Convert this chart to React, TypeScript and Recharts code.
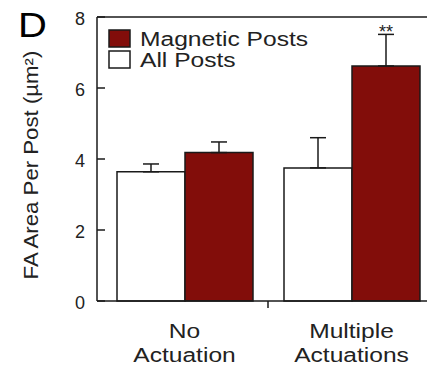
import { BarChart, Bar, XAxis, YAxis, ErrorBar, LabelList, Legend, ReferenceLine } from "recharts"

const categories = ["No Actuation", "Multiple Actuations"]
const tickLabels = [
  ["No", "Actuation"],
  ["Multiple", "Actuations"],
]
const allPosts = [3.64, 3.75]
const allPostsErr = [0.22, 0.85]
const magneticPosts = [4.18, 6.62]
const magneticErr = [0.3, 0.89]
const significance = ["", "**"]
const yTicks = [0, 2, 4, 6, 8]

const FONT = '"Liberation Sans", Arial, sans-serif'
const RED = "#820d0a"
const INK = "#1a1a1a"
const TEXT = "#222"

const data = categories.map((category, i) => ({
  category,
  all: allPosts[i],
  allErr: [0, allPostsErr[i]],
  magnetic: magneticPosts[i],
  magneticErr: [0, magneticErr[i]],
}))

function YTick({ x, y, payload }: any) {
  return (
    <g>
      <line x1={x + 12} x2={x + 20} y1={y} y2={y} stroke={INK} strokeWidth={1.5} />
      <text x={x} y={y} dy={7.5} textAnchor="end" fontSize={18} fontFamily={FONT} fill={TEXT}>
        {payload.value}
      </text>
    </g>
  )
}

function XTick({ x, y, payload, index }: any) {
  const lines = tickLabels[index] || []
  return (
    <g>
      {index === 0 && payload.offset ? (
        <line x1={x + payload.offset} x2={x + payload.offset} y1={y} y2={y + 7} stroke={INK} strokeWidth={1.5} />
      ) : null}
      {lines.map((t, k) => (
        <text
          key={t}
          transform={`translate(${x},${y + 37 + k * 23.7}) scale(1.17,1)`}
          textAnchor="middle"
          fontSize={21}
          fontFamily={FONT}
          fill={TEXT}
        >
          {t}
        </text>
      ))}
    </g>
  )
}

function YTitle({ viewBox }: any) {
  const cx = viewBox.x + 38
  const cy = viewBox.y + viewBox.height / 2 + 6
  return (
    <g>
      <text
        transform={`translate(${cx},${cy}) rotate(-90) scale(1.14,1)`}
        textAnchor="middle"
        fontSize={19.5}
        fontFamily={FONT}
        fill={TEXT}
      >
        FA Area Per Post (µm²)
      </text>
      <text transform="translate(18,37) scale(1.11,1)" fontSize={36} fontFamily={FONT} fill="#000">
        D
      </text>
    </g>
  )
}

function SigLabel({ x, y, width, height, index }: any) {
  const mark = significance[index]
  if (!mark) return null
  const errPx = (height * magneticErr[index]) / magneticPosts[index]
  return (
    <text x={x + width / 2} y={y - errPx + 3.5} textAnchor="middle" fontSize={18} fontFamily={FONT} fill={TEXT}>
      {mark}
    </text>
  )
}

function LegendBox({ payload }: any) {
  const items = [...(payload || [])].reverse()
  return (
    <svg width={320} height={75}>
      {items.map((item: any, i: number) => (
        <g key={item.value}>
          <rect x={109} y={30 + i * 21} width={21} height={17} fill={item.color} stroke={INK} strokeWidth={1.5} />
          <text
            transform={`translate(140,${46 + i * 20.7}) scale(1.23,1)`}
            fontSize={20}
            fontFamily={FONT}
            fill={TEXT}
          >
            {item.value}
          </text>
        </g>
      ))}
    </svg>
  )
}

export default function App() {
  return (
    <div style={{ position: "absolute", top: 0, left: 0, width: 427, height: 365, overflow: "hidden", background: "#fff" }}>
      <BarChart
        width={440}
        height={365}
        data={data}
        margin={{ top: 17, right: 5, bottom: 0, left: 0 }}
        barCategoryGap={16}
        barGap={0}
      >
        <XAxis
          dataKey="category"
          height={64}
          padding={{ left: 4, right: 0 }}
          axisLine={{ stroke: INK, strokeWidth: 1.5 }}
          tickLine={false}
          tickSize={0}
          tickMargin={0}
          interval={0}
          tick={<XTick />}
        />
        <YAxis
          width={97}
          domain={[0, 8]}
          ticks={yTicks}
          axisLine={{ stroke: INK, strokeWidth: 1.5 }}
          tickLine={false}
          tickSize={0}
          tickMargin={12}
          tick={<YTick />}
          label={<YTitle />}
        />
        <ReferenceLine y={8} stroke={INK} strokeWidth={1.5} />
        <Legend
          layout="horizontal"
          verticalAlign="middle"
          align="center"
          wrapperStyle={{ top: 0, left: 0, width: 320, height: 75 }}
          content={<LegendBox />}
        />
        <Bar dataKey="all" name="All Posts" fill="#ffffff" stroke={INK} strokeWidth={1.5} isAnimationActive={false}>
          <ErrorBar dataKey="allErr" width={8} stroke={INK} strokeWidth={1.5} />
        </Bar>
        <Bar dataKey="magnetic" name="Magnetic Posts" fill={RED} stroke={INK} strokeWidth={1.5} isAnimationActive={false}>
          <ErrorBar dataKey="magneticErr" width={8} stroke={INK} strokeWidth={1.5} />
          <LabelList dataKey="magnetic" content={<SigLabel />} />
        </Bar>
      </BarChart>
    </div>
  )
}
